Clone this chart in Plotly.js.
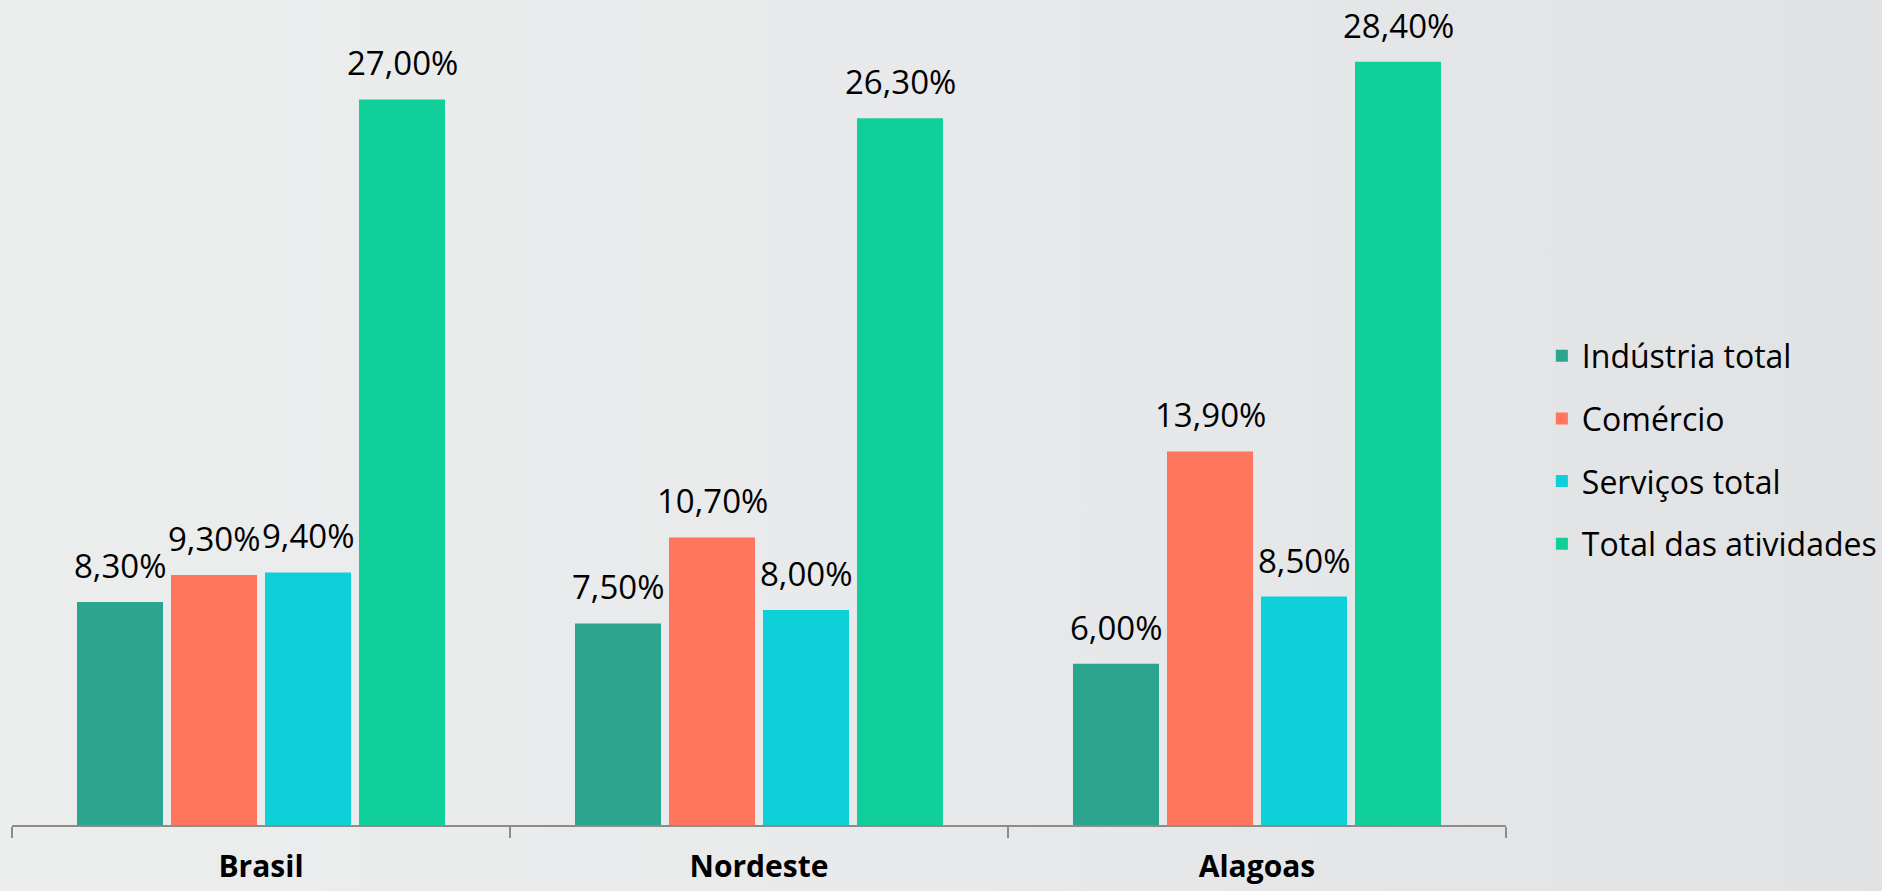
<!DOCTYPE html>
<html>
<head>
<meta charset="utf-8">
<script src="https://cdn.plot.ly/plotly-3.0.1.min.js"></script>
<style>
html,body{margin:0;padding:0;}
body{width:1882px;height:891px;background:linear-gradient(to right,#eceded 0%,#e8e9ea 50%,#e1e2e4 100%);overflow:hidden;}
#chart{width:1882px;height:891px;}
</style>
</head>
<body>
<div id="chart"></div>
<script>
const categories = ["Brasil", "Nordeste", "Alagoas"];
const seriesNames = ["Indústria total", "Comércio", "Serviços total", "Total das atividades"];
const industria = [8.3, 7.5, 6.0];
const comercio = [9.3, 10.7, 13.9];
const servicos = [9.4, 8.0, 8.5];
const totalAtividades = [27.0, 26.3, 28.4];
const colors = ["#2ca58e", "#ff755d", "#0dd0d8", "#11cf9b"];

const seriesValues = [industria, comercio, servicos, totalAtividades];
const font = "'Open Sans', 'DejaVu Sans', sans-serif";
const bargap = 0.245;

const traces = seriesValues.map((vals, i) => ({
  type: "bar",
  name: seriesNames[i],
  x: categories,
  y: vals,
  marker: {color: colors[i]},
  legendgroup: "g" + i,
  hoverinfo: "skip"
}));

// value labels placed above each bar, positioned via the axis scales
const nSeries = seriesValues.length;
const slot = (1 - bargap) / nSeries;
const annotations = [];
seriesValues.forEach((vals, i) => {
  vals.forEach((v, j) => {
    annotations.push({
      xref: "x", yref: "y",
      x: j + (i - (nSeries - 1) / 2) * slot,
      y: v,
      text: v.toFixed(2).replace(".", ",") + "%",
      showarrow: false,
      xanchor: "center",
      yanchor: "bottom",
      yshift: 12,
      font: {family: font, size: 33, color: "#000"}
    });
  });
});

const layout = {
  width: 1882,
  height: 891,
  separators: ",.",
  paper_bgcolor: "rgba(0,0,0,0)",
  plot_bgcolor: "rgba(0,0,0,0)",
  margin: {l: 12, r: 376, t: 0, b: 66},
  barmode: "group",
  bargap: bargap,
  bargroupgap: 0.085,
  showlegend: true,
  annotations: annotations,
  legend: {
    x: 1.024, xanchor: "left",
    y: 0.4545, yanchor: "middle",
    font: {family: font, size: 32, color: "#000"},
    tracegroupgap: 18,
    traceorder: "grouped",
    bgcolor: "rgba(0,0,0,0)"
  },
  xaxis: {
    type: "category",
    range: [-0.5, 2.5],
    showline: true,
    linecolor: "#8c8c8c",
    linewidth: 1.5,
    ticks: "outside",
    tickson: "boundaries",
    ticklen: 11,
    tickcolor: "#8c8c8c",
    tickwidth: 1.5,
    ticklabelstandoff: 14,
    tickfont: {family: font, size: 30, color: "#000", weight: "bold"},
    showgrid: false,
    zeroline: false
  },
  yaxis: {
    range: [0, 30.7],
    visible: false,
    showgrid: false,
    zeroline: false
  }
};

Plotly.newPlot("chart", traces, layout, {displayModeBar: false, staticPlot: true});
</script>
</body>
</html>
